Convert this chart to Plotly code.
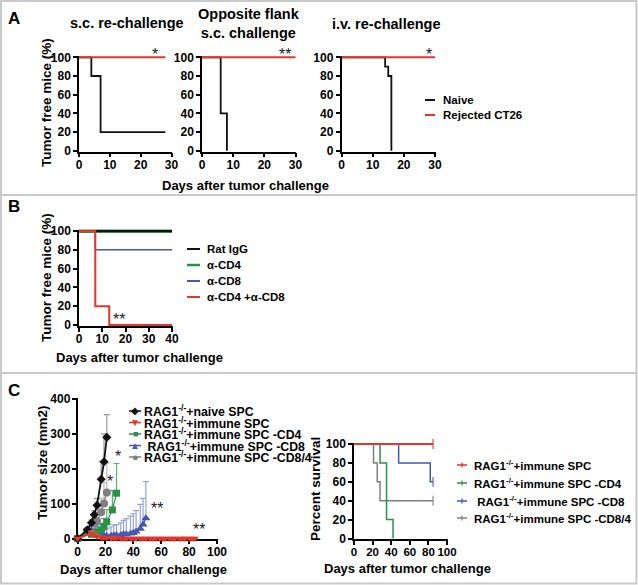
import plotly.graph_objects as go

W, H = 638, 585
FONT = "Liberation Sans, Arial, Helvetica, sans-serif"

# ---------------- DATA ----------------
# Panel A (Kaplan-Meier, tumor free %)
a_titles = ["s.c. re-challenge", "Opposite flank<br>s.c. challenge", "i.v. re-challenge"]
a1_naive_days = [0, 4, 7, 28]
a1_naive_pct = [100, 80, 20, 20]
a1_rej_days = [0, 28]
a1_rej_pct = [100, 100]
a2_naive_days = [0, 6, 8]
a2_naive_pct = [100, 40, 0]
a2_rej_days = [0, 30]
a2_rej_pct = [100, 100]
a3_naive_days = [0, 14, 15, 16]
a3_naive_pct = [100, 90, 80, 0]
a3_rej_days = [0, 30]
a3_rej_pct = [100, 100]
a_legend = ["Naive", "Rejected CT26"]
a_stars = ["*", "**", "*"]
a_star_days = [24.5, 26.5, 28]
a_xticks = [0, 10, 20, 30]
pct_ticks = [0, 20, 40, 60, 80, 100]

# Panel B
b_groups = ["Rat IgG", "α-CD4", "α-CD8", "α-CD4 +α-CD8"]
b_ratigg_days = [0, 40]
b_ratigg_pct = [100, 100]
b_cd4_days = [0, 40]
b_cd4_pct = [100, 100]
b_cd8_days = [0, 7, 40]
b_cd8_pct = [100, 80, 80]
b_cd48_days = [0, 7, 13, 40]
b_cd48_pct = [100, 20, 0, 0]
b_xticks = [0, 10, 20, 30, 40]

# Panel C left (tumor size, mean + upper SD)
c_groups = ["RAG1<sup>-/-</sup>+naive SPC", "RAG1<sup>-/-</sup>+immune SPC",
            "RAG1<sup>-/-</sup>+immune SPC -CD4", " RAG1<sup>-/-</sup>+immune SPC -CD8",
            "RAG1<sup>-/-</sup>+immune SPC -CD8/4"]
naive_days = [0, 7, 10, 12, 14, 17, 19, 21]
naive_size = [0, 25, 45, 68, 95, 170, 220, 290]
naive_err = [0, 5, 8, 12, 20, 50, 80, 65]
immune_days = [0, 10, 12, 14, 17, 19, 21, 24, 26, 28, 31, 33, 35, 38, 40, 42, 45, 47,
               49, 52, 54, 56, 59, 61, 63, 66, 68, 70, 73, 75, 77, 80, 82, 84]
immune_size = [0, 15, 10, 6, 3, 2, 2, 1, 1, 1, 0, 0, 0, 0, 0, 0, 0, 0,
               0, 0, 0, 0, 0, 0, 0, 0, 0, 0, 0, 0, 0, 0, 0, 0]
immune_err = [0, 6, 5, 4, 3, 2, 2, 2, 2, 2, 1, 1, 1, 1, 1, 1, 1, 1,
              1, 1, 1, 1, 1, 1, 1, 1, 1, 1, 1, 1, 1, 1, 1, 1]
cd4_days = [0, 7, 10, 12, 14, 17, 19, 21, 25, 28]
cd4_size = [0, 20, 12, 15, 18, 25, 35, 48, 82, 130]
cd4_err = [0, 5, 5, 8, 10, 15, 22, 35, 55, 85]
cd8_days = [0, 7, 10, 12, 14, 17, 19, 21, 24, 26, 28, 31, 33, 35, 38, 40, 42, 45, 47, 49]
cd8_size = [0, 15, 22, 18, 12, 10, 8, 8, 8, 9, 10, 10, 12, 12, 14, 16, 20, 28, 40, 58]
cd8_err = [0, 5, 10, 12, 15, 15, 15, 20, 25, 30, 30, 35, 40, 45, 50, 55, 60, 70, 75, 105]
cd84_days = [0, 7, 10, 12, 14, 17, 19, 21]
cd84_size = [0, 22, 28, 38, 50, 75, 100, 132]
cd84_err = [0, 5, 10, 15, 25, 40, 60, 85]
c_stars = ["*", "*", "**", "**"]
c_star_days = [29, 23.6, 57, 87.4]
c_star_vals = [235, 163, 86, 26]
c_xticks = [0, 20, 40, 60, 80, 100]
c_yticks = [0, 100, 200, 300, 400]

# Panel C right (percent survival)
s_groups = ["RAG1<sup>-/-</sup>+immune SPC", "RAG1<sup>-/-</sup>+immune SPC -CD4",
            " RAG1<sup>-/-</sup>+immune SPC -CD8", "RAG1<sup>-/-</sup>+immune SPC -CD8/4"]
s_immune_days = [0, 85]
s_immune_pct = [100, 100]
s_cd4_days = [0, 28, 35, 42]
s_cd4_pct = [100, 80, 20, 0]
s_cd8_days = [0, 48, 82, 85]
s_cd8_pct = [100, 80, 60, 60]
s_cd84_days = [0, 21, 25, 28, 85]
s_cd84_pct = [100, 80, 60, 40, 40]

# ---------------- STYLE ----------------
RED = "#E5362C"
BLACK = "#111111"
GREEN = "#2D9048"
BLUE = "#4458B2"
GRAY = "#7F7F7F"


def fx(p):
    return p / W


def fy(p):
    return 1 - p / H


def xdom(p_a, p_b, v_a, v_b, lo, hi):
    s = (p_b - p_a) / (v_b - v_a)
    return [fx(p_a + (lo - v_a) * s), fx(p_a + (hi - v_a) * s)]


def ydom(p_a, p_b, v_a, v_b, lo, hi):
    s = (p_b - p_a) / (v_b - v_a)
    return [fy(p_a + (lo - v_a) * s), fy(p_a + (hi - v_a) * s)]


def axis(domain, rng, tickvals, anchor, standoff=0, fsize=12):
    return dict(domain=domain, range=rng, tickvals=tickvals, ticks="outside",
                ticklen=4, tickwidth=1.5, tickcolor="black", showline=True,
                linecolor="black", linewidth=1.5, showgrid=False, zeroline=False,
                tickfont=dict(family=FONT, size=fsize, color="black", weight="bold"),
                ticklabelstandoff=standoff,
                anchor=anchor, fixedrange=True, layer="below traces", automargin=False)


def xaxis(domain, rng, tickvals, anchor, fsize=12):
    return axis(domain, rng, tickvals, anchor, standoff=-3, fsize=fsize)


fig = go.Figure()


def km(x, y, color, xa, ya, width=1.8, cens=False):
    n = len(x)
    sizes = [0] * (n - 1) + [7 if cens else 0]
    fig.add_trace(go.Scatter(
        x=x, y=y, mode="lines+markers" if cens else "lines",
        line=dict(color=color, width=width, shape="hv"),
        marker=dict(symbol="line-ns", size=sizes, line=dict(color=color, width=1.5)),
        xaxis=xa, yaxis=ya, showlegend=False, hoverinfo="skip", cliponaxis=False))


# Panel A
km(a1_naive_days, a1_naive_pct, BLACK, "x", "y")
km(a1_rej_days, a1_rej_pct, RED, "x", "y", 2)
km(a2_naive_days, a2_naive_pct, BLACK, "x2", "y2")
km(a2_rej_days, a2_rej_pct, RED, "x2", "y2", 2)
km(a3_naive_days, a3_naive_pct, BLACK, "x3", "y3")
km(a3_rej_days, a3_rej_pct, RED, "x3", "y3", 2)

# Panel B
km(b_cd4_days, b_cd4_pct, GREEN, "x4", "y4", 4)
km(b_ratigg_days, b_ratigg_pct, BLACK, "x4", "y4", 1.8)
km(b_cd8_days, b_cd8_pct, BLUE, "x4", "y4", 1.5)
km(b_cd48_days, b_cd48_pct, RED, "x4", "y4", 2)


# Panel C left
def growth(x, y, err, color, ecolor, symbol, size, width):
    fig.add_trace(go.Scatter(
        x=x, y=y, mode="lines+markers",
        line=dict(color=color, width=width),
        marker=dict(symbol=symbol, size=size, color=color),
        error_y=dict(type="data", array=err, arrayminus=[0] * len(err), symmetric=False,
                     color=ecolor, thickness=1.2, width=3),
        xaxis="x5", yaxis="y5", showlegend=False, hoverinfo="skip", cliponaxis=False))


growth(cd84_days, cd84_size, cd84_err, GRAY, "#BDBDBD", "circle", 8, 1.2)
growth(cd8_days, cd8_size, cd8_err, BLUE, "#97A3D8", "triangle-up", 8, 1.2)
growth(cd4_days, cd4_size, cd4_err, GREEN, "#5FAF77", "square", 7, 1.2)
growth(naive_days, naive_size, naive_err, BLACK, "#9A9A9A", "diamond", 7, 1.8)
growth(immune_days, immune_size, immune_err, RED, "#F08A84", "triangle-down", 7, 2)

# Panel C right
km(s_cd84_days, s_cd84_pct, GRAY, "x6", "y6", 1.5, cens=True)
km(s_cd4_days, s_cd4_pct, GREEN, "x6", "y6", 1.5)
km(s_cd8_days, s_cd8_pct, BLUE, "x6", "y6", 1.5, cens=True)
km(s_immune_days, s_immune_pct, RED, "x6", "y6", 1.8, cens=True)

# ---------------- AXES ----------------
ya_dom = ydom(150.8, 57.3, 0, 100, -1, 101.5)
layout_axes = dict(
    xaxis=xaxis(xdom(79, 171.5, 0, 30, 0, 30.3), [0, 30.3], a_xticks, "y"),
    yaxis=axis(ya_dom, [-1, 101.5], pct_ticks, "x"),
    xaxis2=xaxis(xdom(202, 295.5, 0, 30, 0, 30.3), [0, 30.3], a_xticks, "y2"),
    yaxis2=axis(ya_dom, [-1, 101.5], pct_ticks, "x2"),
    xaxis3=xaxis(xdom(341.5, 435, 0, 30, 0, 30.3), [0, 30.3], a_xticks, "y3"),
    yaxis3=axis(ya_dom, [-1, 101.5], pct_ticks, "x3"),
    xaxis4=xaxis(xdom(79, 172, 0, 40, 0, 40.4), [0, 40.4], b_xticks, "y4"),
    yaxis4=axis(ydom(325, 231, 0, 100, -1, 101.5), [-1, 101.5], pct_ticks, "x4"),
    xaxis5=xaxis(xdom(77.5, 217, 0, 100, 0, 101), [0, 101], c_xticks, "y5"),
    yaxis5=axis(ydom(538.5, 399, 0, 400, 0, 403), [0, 403], c_yticks, "x5", standoff=-1),
    xaxis6=xaxis(xdom(354, 447, 0, 100, 0, 101), [0, 101], c_xticks, "y6", fsize=11.5),
    yaxis6=axis(ydom(538.5, 444, 0, 100, -1, 101.5), [-1, 101.5], pct_ticks, "x6"),
)

# ---------------- TEXT ----------------
ann = []
shapes = []


def text(t, x, y, size=13, bold=True, xanchor="center", yanchor="middle", angle=0, color="black"):
    ann.append(dict(text=t, x=fx(x), y=fy(y), xref="paper", yref="paper",
                    xanchor=xanchor, yanchor=yanchor, showarrow=False, textangle=angle,
                    font=dict(family=FONT, size=size, color=color,
                              weight="bold" if bold else "normal")))


def star(t, x, y, xa, ya, size=16, yshift=0):
    ann.append(dict(text=t, x=x, y=y, xref=xa, yref=ya, xanchor="center", yanchor="middle",
                    showarrow=False, yshift=yshift,
                    font=dict(family=FONT, size=size, color="#222222")))


def keyline(x0, x1, y, color, width=2):
    shapes.append(dict(type="line", xref="paper", yref="paper", x0=fx(x0), x1=fx(x1),
                       y0=fy(y), y1=fy(y), line=dict(color=color, width=width)))


# panel letters
text("A", 14, 18, 17)
text("B", 14, 206, 17)
text("C", 14, 390, 17)

# Panel A titles
text(a_titles[0], 127, 23, 14.5)
text(a_titles[1], 249, 24, 14.5)
text(a_titles[2], 386, 24, 14.5)
text("Tumor free mice (%)", 46, 103, 13.5, angle=-90)
text("Days after tumor challenge", 245, 185, 13)
for t, d, xa, ya in zip(a_stars, a_star_days, ["x", "x2", "x3"], ["y", "y2", "y3"]):
    star(t, d, 100, xa, ya, yshift=2.5)
# Panel A legend
keyline(425, 435, 100, BLACK)
keyline(425, 435, 115, RED)
text(a_legend[0], 441, 100, 11.5, xanchor="left")
text(a_legend[1], 441, 115, 11.5, xanchor="left")

# Panel B
text("Tumor free mice (%)", 46, 278, 13.5, angle=-90)
text("Days after tumor challenge", 139, 357, 13)
star("**", 17, 6, "x4", "y4")
for g, yy, col in zip(b_groups, [249, 265, 281, 297], [BLACK, GREEN, BLUE, RED]):
    keyline(187, 200, yy, col, 2.5 if col == GREEN else 2)
    text(g, 205, yy, 11.5, xanchor="left")

# Panel C left
text("Tumor size (mm2)", 42, 463, 13.5, angle=-90)
text("Days after tumor challenge", 143, 569, 13)
for t, d, v in zip(c_stars, c_star_days, c_star_vals):
    star(t, d, v, "x5", "y5")
glyphs = ["◆", "▼", "■", "▲", "●"]
gcols = [BLACK, RED, GREEN, BLUE, GRAY]
gsz = [10, 10, 9, 10, 11]
for g, gl, col, yy, sz in zip(c_groups, glyphs, gcols, [411, 422.5, 434, 445.5, 457], gsz):
    keyline(129, 141, yy, col, 1.5)
    text(gl, 135, yy, sz, bold=False, color=col)
    text(g, 142, yy, 12.3, xanchor="left")

# Panel C right
text("Percent survival", 315, 489, 13.5, angle=-90)
text("Days after tumor challenge", 407, 568, 13)
for g, yy, col in zip(s_groups, [465, 483, 501, 518], [RED, GREEN, BLUE, GRAY]):
    keyline(457, 467, yy, col, 1.5)
    shapes.append(dict(type="line", xref="paper", yref="paper", x0=fx(462), x1=fx(462),
                       y0=fy(yy - 2.5), y1=fy(yy + 2.5), line=dict(color=col, width=1.2)))
    text(g, 472, yy, 11.5, xanchor="left")

# frame
FR = "#C9C9C9"
shapes.append(dict(type="rect", xref="paper", yref="paper", x0=fx(1), x1=fx(636.5),
                   y0=fy(1), y1=fy(583.5), line=dict(color=FR, width=2), layer="below"))
for yy in [195, 373]:
    shapes.append(dict(type="line", xref="paper", yref="paper", x0=fx(1), x1=fx(636.5),
                       y0=fy(yy), y1=fy(yy), line=dict(color=FR, width=2), layer="below"))

fig.update_layout(
    width=W, height=H, margin=dict(l=0, r=0, t=0, b=0, pad=0, autoexpand=False),
    paper_bgcolor="white", plot_bgcolor="rgba(0,0,0,0)", showlegend=False,
    font=dict(family=FONT, color="black"),
    annotations=ann, shapes=shapes, **layout_axes)

fig.write_html("out.html", config=dict(responsive=False, displayModeBar=False),
               post_script="document.body.style.margin='0';document.body.style.overflow='hidden';")
